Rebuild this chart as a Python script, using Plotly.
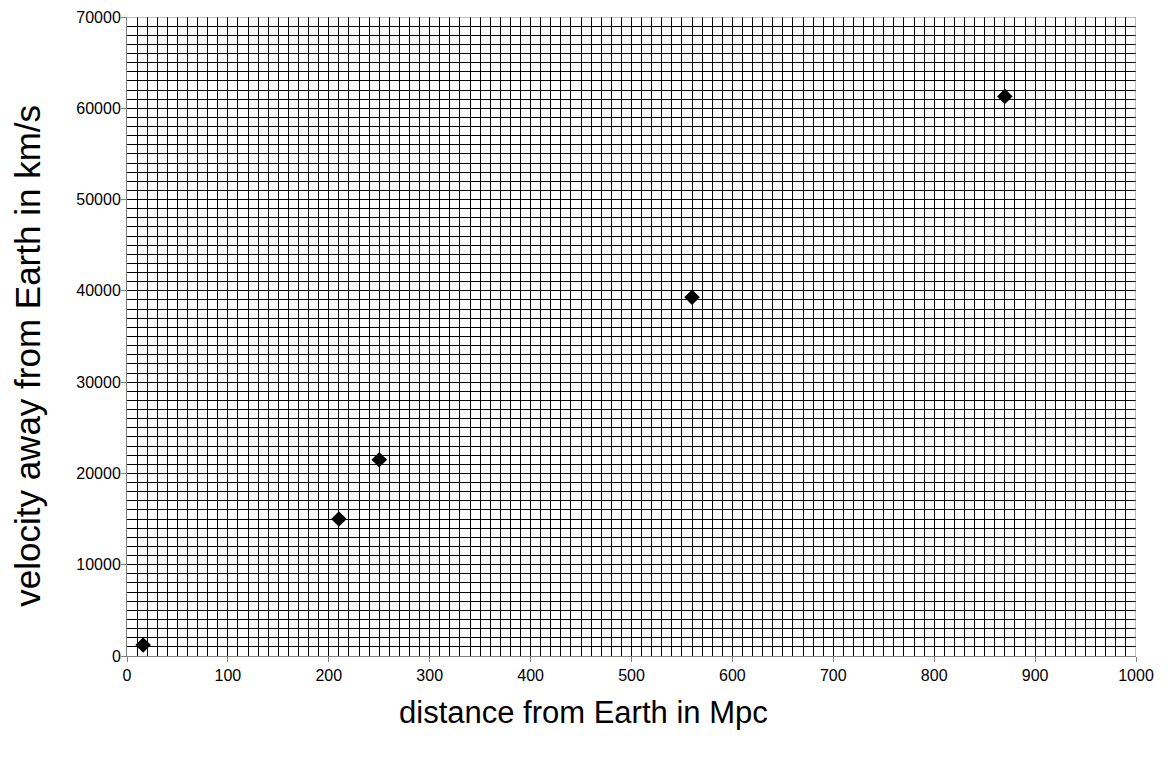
import plotly.graph_objects as go

distance_mpc = [16, 210, 250, 560, 870]
velocity_kms = [1200, 15000, 21500, 39300, 61300]

x_title = "distance from Earth in Mpc"
y_title = "velocity away from Earth in km/s"

FONT = "Liberation Sans, Arial"

fig = go.Figure()
fig.add_trace(go.Scatter(
    x=distance_mpc, y=velocity_kms, mode="markers",
    marker=dict(symbol="diamond", size=12, color="black"),
    showlegend=False,
))

axis_common = dict(
    showline=True, linecolor="#808080", linewidth=1, mirror=False,
    showgrid=True, gridcolor="black", gridwidth=1,
    ticks="outside", ticklen=5, tickcolor="#808080", tickwidth=1,
    tickfont=dict(family=FONT, size=16, color="black"),
    zeroline=False, automargin=False,
)

fig.update_layout(
    width=1168, height=758,
    margin=dict(l=119, r=40, t=9, b=110),
    paper_bgcolor="white", plot_bgcolor="white",
    xaxis=dict(
        range=[0, 1000], dtick=100, tick0=0, tickformat="d",
        minor=dict(dtick=10, showgrid=True, gridcolor="black", gridwidth=1, ticks=""),
        **axis_common,
    ),
    yaxis=dict(
        range=[0, 70000], dtick=10000, tick0=0, tickformat="d",
        minor=dict(dtick=1000, showgrid=True, gridcolor="black", gridwidth=1, ticks=""),
        **axis_common,
    ),
    annotations=[
        dict(text=x_title, xref="paper", yref="paper", x=0.452, y=-0.089,
             xanchor="center", yanchor="middle", showarrow=False,
             font=dict(family=FONT, size=31, color="black")),
        dict(text=y_title, xref="paper", yref="paper", x=-0.098, y=0.47,
             xanchor="center", yanchor="middle", showarrow=False, textangle=-90,
             font=dict(family=FONT, size=35, color="black")),
    ],
    shapes=[dict(type="line", xref="x", yref="paper", x0=1000, x1=1000, y0=0, y1=1,
                 line=dict(color="#808080", width=1)),
            dict(type="line", xref="paper", yref="y", x0=0, x1=1, y0=70000, y1=70000,
                 line=dict(color="#808080", width=1))],
)
fig.update_yaxes(ticklabelstandoff=-3)

fig.write_html("out.html")
